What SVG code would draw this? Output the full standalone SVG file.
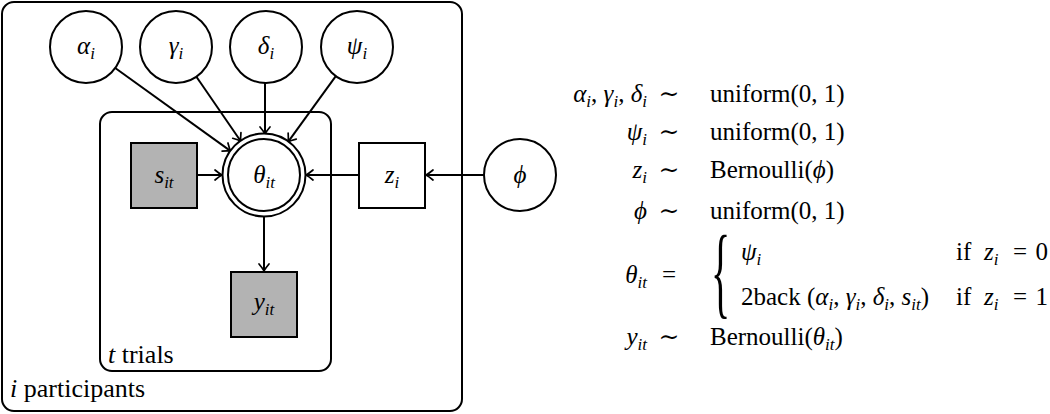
<svg xmlns="http://www.w3.org/2000/svg" width="1050" height="414" viewBox="0 0 1050 414">
  <style>
    .plate { fill: none; stroke: #000; stroke-width: 2; }
    .node { fill: #fff; stroke: #000; stroke-width: 2; }
    .obs { fill: #b3b3b3; stroke: #000; stroke-width: 2; }
    .edge { fill: none; stroke: #000; stroke-width: 2; marker-end: url(#arr); }
    text { font-family: 'Liberation Serif', 'DejaVu Serif', serif; font-size: 25px; fill: #000; }
    .m { font-style: italic; }
    .r { font-style: normal; }
    .sub { font-size: 17px; font-style: italic; }
    .lbl { text-anchor: middle; }
    .pl { font-size: 26px; }
  </style>
  <defs>
    <marker id="arr" viewBox="-10 -7 14 14" refX="0" refY="0" markerWidth="14" markerHeight="14" markerUnits="userSpaceOnUse" orient="auto">
      <path d="M-7,-5 Q-2.5,-1.2 0,0 Q-2.5,1.2 -7,5" fill="none" stroke="#000" stroke-width="1.7" stroke-linecap="round"/>
    </marker>
  </defs>

  <g id="plate-participants">
    <rect class="plate" x="2" y="2" width="460" height="409" rx="12"/>
    <text class="pl" x="10" y="397"><tspan class="m">i</tspan> participants</text>
  </g>
  <g id="plate-trials">
    <rect class="plate" x="100" y="112" width="231" height="259" rx="12"/>
    <text class="pl" x="108" y="363"><tspan class="m">t</tspan> trials</text>
  </g>

  <g id="connectors">
    <line class="edge" x1="115.2" y1="68" x2="230.7" y2="151.1"/>
    <line class="edge" x1="196.4" y1="76.7" x2="240.8" y2="141.2"/>
    <line class="edge" x1="265" y1="83" x2="265" y2="134"/>
    <line class="edge" x1="335.8" y1="76.1" x2="288.1" y2="141.8"/>
    <line class="edge" x1="197" y1="175" x2="222" y2="175"/>
    <line class="edge" x1="359" y1="175" x2="306" y2="175"/>
    <line class="edge" x1="484" y1="175" x2="426" y2="175"/>
    <line class="edge" x1="264" y1="216" x2="264" y2="271"/>
  </g>

  <g id="node-alpha">
    <circle class="node" cx="86" cy="47" r="36"/>
    <text class="lbl m" x="86" y="54">α<tspan class="sub" dy="5">i</tspan></text>
  </g>
  <g id="node-gamma">
    <circle class="node" cx="176" cy="47" r="36"/>
    <text class="lbl m" x="176" y="54">γ<tspan class="sub" dy="5">i</tspan></text>
  </g>
  <g id="node-delta">
    <circle class="node" cx="266" cy="47" r="36"/>
    <text class="lbl m" x="266" y="54">δ<tspan class="sub" dy="5">i</tspan></text>
  </g>
  <g id="node-psi">
    <circle class="node" cx="357" cy="47" r="36"/>
    <text class="lbl m" x="357" y="54">ψ<tspan class="sub" dy="5">i</tspan></text>
  </g>
  <g id="node-theta">
    <circle class="node" cx="264" cy="175" r="41.5"/>
    <circle class="node" cx="264" cy="175" r="36"/>
    <text class="lbl m" x="264" y="183">θ<tspan class="sub" dy="5">it</tspan></text>
  </g>
  <g id="node-s">
    <rect class="obs" x="131" y="143" width="66" height="65"/>
    <text class="lbl m" x="164" y="183">s<tspan class="sub" dy="5">it</tspan></text>
  </g>
  <g id="node-z">
    <rect class="node" x="359" y="143" width="66" height="65"/>
    <text class="lbl m" x="392" y="183">z<tspan class="sub" dy="5">i</tspan></text>
  </g>
  <g id="node-y">
    <rect class="obs" x="231" y="272" width="66" height="65"/>
    <text class="lbl m" x="264" y="310">y<tspan class="sub" dy="5">it</tspan></text>
  </g>
  <g id="node-phi">
    <circle class="node" cx="520" cy="175" r="36"/>
    <text class="lbl m" x="520" y="183">ϕ</text>
  </g>

  <g id="equations">
    <text class="m" x="647" y="102" text-anchor="end">α<tspan class="sub" dy="5">i</tspan><tspan class="r" dy="-5">, </tspan>γ<tspan class="sub" dy="5">i</tspan><tspan class="r" dy="-5">, </tspan>δ<tspan class="sub" dy="5">i</tspan></text>
    <text x="669" y="102" text-anchor="middle">∼</text>
    <text x="710" y="102">uniform(0, 1)</text>

    <text class="m" x="647" y="140" text-anchor="end">ψ<tspan class="sub" dy="5">i</tspan></text>
    <text x="669" y="140" text-anchor="middle">∼</text>
    <text x="710" y="140">uniform(0, 1)</text>

    <text class="m" x="647" y="178" text-anchor="end">z<tspan class="sub" dy="5">i</tspan></text>
    <text x="669" y="178" text-anchor="middle">∼</text>
    <text x="710" y="178">Bernoulli(<tspan class="m">ϕ</tspan>)</text>

    <text class="m" x="647" y="219" text-anchor="end">ϕ</text>
    <text x="669" y="219" text-anchor="middle">∼</text>
    <text x="710" y="219">uniform(0, 1)</text>

    <text class="m" x="647" y="283" text-anchor="end">θ<tspan class="sub" dy="5">it</tspan></text>
    <text x="669" y="283" text-anchor="middle">=</text>
    <text transform="translate(711,305) scale(1,2.55)" style="font-size:40px">{</text>
    <text class="m" x="741" y="260">ψ<tspan class="sub" dy="5">i</tspan></text>
    <text x="956" y="260">if</text>
    <text class="m" x="984" y="260">z<tspan class="sub" dy="5">i</tspan></text>
    <text x="1020" y="260" text-anchor="middle">=</text>
    <text x="1048" y="260" text-anchor="end">0</text>
    <text x="741" y="305">2back (<tspan class="m">α</tspan><tspan class="sub" dy="5">i</tspan><tspan dy="-5">, </tspan><tspan class="m">γ</tspan><tspan class="sub" dy="5">i</tspan><tspan dy="-5">, </tspan><tspan class="m">δ</tspan><tspan class="sub" dy="5">i</tspan><tspan dy="-5">, </tspan><tspan class="m">s</tspan><tspan class="sub" dy="5">it</tspan><tspan dy="-5">)</tspan></text>
    <text x="956" y="305">if</text>
    <text class="m" x="984" y="305">z<tspan class="sub" dy="5">i</tspan></text>
    <text x="1020" y="305" text-anchor="middle">=</text>
    <text x="1048" y="305" text-anchor="end">1</text>

    <text class="m" x="647" y="345" text-anchor="end">y<tspan class="sub" dy="5">it</tspan></text>
    <text x="669" y="345" text-anchor="middle">∼</text>
    <text x="710" y="345">Bernoulli(<tspan class="m">θ</tspan><tspan class="sub" dy="5">it</tspan><tspan dy="-5">)</tspan></text>
  </g>
</svg>
